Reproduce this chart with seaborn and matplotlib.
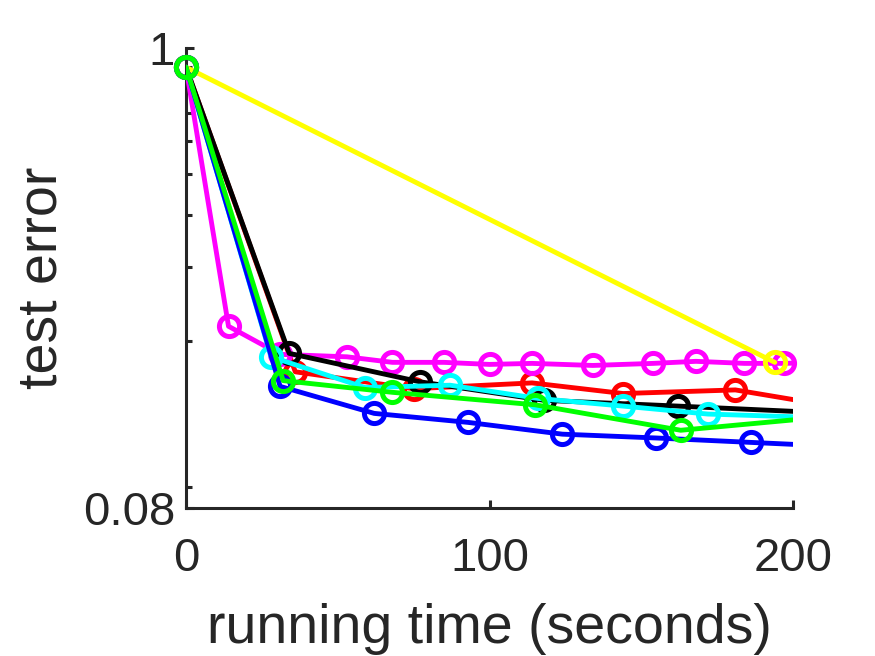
import numpy as np
import pandas as pd
import matplotlib
matplotlib.use('Agg')
import matplotlib.pyplot as plt
import seaborn as sns
from matplotlib.ticker import FixedLocator, LogLocator, NullFormatter

# Test error vs running time, one list pair per method
red_x = [0, 36, 75, 114, 144, 181, 218]
red_y = [0.9, 0.169, 0.154, 0.159, 0.150, 0.153, 0.138]

black_x = [0, 34, 77, 118, 162, 205]
black_y = [0.9, 0.187, 0.160, 0.1445, 0.140, 0.1355]

cyan_x = [0, 28, 59, 87, 116, 144, 172, 230]
cyan_y = [0.9, 0.1835, 0.155, 0.157, 0.146, 0.140, 0.134, 0.130]

magenta_x = [0, 14, 31, 53, 68, 85, 100, 114, 134, 154, 168, 184, 197, 211]
magenta_y = [0.9, 0.217, 0.186, 0.1835, 0.178, 0.178, 0.176, 0.177, 0.175,
             0.177, 0.179, 0.177, 0.177, 0.178]

blue_x = [0, 31, 62, 93, 124, 155, 186, 217]
blue_y = [0.9, 0.156, 0.1345, 0.128, 0.120, 0.1175, 0.1147, 0.112]

yellow_x = [0, 194]
yellow_y = [0.9, 0.178]

green_x = [0, 32, 68, 115, 163, 211]
green_y = [0.9, 0.161, 0.151, 0.141, 0.1226, 0.132]

series = [
    ('red', red_x, red_y, '#ff0000'),
    ('magenta', magenta_x, magenta_y, '#ff00ff'),
    ('black', black_x, black_y, '#000000'),
    ('cyan', cyan_x, cyan_y, '#00ffff'),
    ('yellow', yellow_x, yellow_y, '#ffff00'),
    ('blue', blue_x, blue_y, '#0000ff'),
    ('green', green_x, green_y, '#00ff00'),
]

x_ticks = [0, 100, 200]
y_ticks = [0.08, 1]
y_ticklabels = ['0.08', '1']

sns.set_style('ticks')
plt.rcParams['font.family'] = ['Liberation Sans', 'DejaVu Sans']

fig = plt.figure(figsize=(8.75, 6.56), dpi=100)
ax = fig.add_axes([0.2126, 0.2256, 0.9063 - 0.2126, 0.9268 - 0.2256])

z = 2
for name, xs, ys, col in series:
    df = pd.DataFrame({'x': xs, 'y': ys})
    # line clipped to the axes, markers allowed to overhang the edge
    sns.lineplot(data=df, x='x', y='y', ax=ax, color=col, lw=3.5,
                 sort=False, estimator=None, zorder=z)
    inside = df[df['x'] <= 200]
    sns.lineplot(data=inside, x='x', y='y', ax=ax, color=col, lw=0,
                 marker='o', markersize=14.5, markerfacecolor='none',
                 markeredgecolor=col, markeredgewidth=3.6,
                 sort=False, estimator=None, zorder=z + 0.5, clip_on=False)
    z += 1

ax.set_yscale('log')
ax.set_xlim(0, 200)
ax.set_ylim(0.08, 1)
ax.xaxis.set_major_locator(FixedLocator(x_ticks))
ax.yaxis.set_major_locator(FixedLocator(y_ticks))
ax.set_yticklabels(y_ticklabels)
ax.yaxis.set_minor_locator(LogLocator(base=10, subs=np.arange(2, 10)))
ax.yaxis.set_minor_formatter(NullFormatter())

dark = '#262626'
for s in ['top', 'right']:
    ax.spines[s].set_visible(False)
for s in ['left', 'bottom']:
    ax.spines[s].set_linewidth(2.2)
    ax.spines[s].set_color(dark)

ax.tick_params(axis='both', which='major', direction='in', length=6, width=2.2,
               colors=dark, labelsize=34)
ax.tick_params(axis='y', which='minor', direction='in', length=4, width=2.2,
               colors=dark)
ax.tick_params(axis='x', which='major', pad=21)
ax.tick_params(axis='y', which='major', pad=8)

ax.set_xlabel('running time (seconds)', fontsize=40, color=dark, labelpad=16)
ax.set_ylabel('test error', fontsize=40, color=dark, labelpad=10)

fig.savefig('out.png', dpi=100)
